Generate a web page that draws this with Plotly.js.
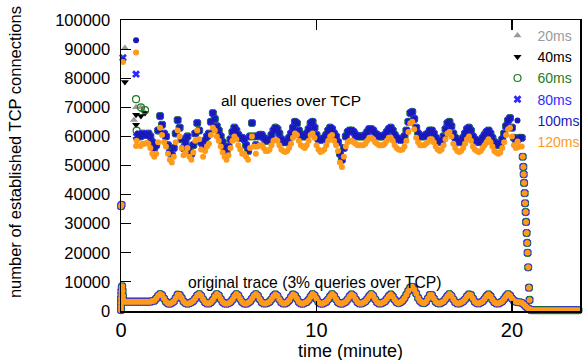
<!DOCTYPE html>
<html><head><meta charset="utf-8">
<script src="https://cdn.plot.ly/plotly-3.0.1.min.js"></script>
<style>html,body{margin:0;padding:0;background:#fff}</style>
</head><body><div id="chart" style="width:583px;height:360px"></div>
<script>
// ---- data (connection counts in thousands, time in minutes) ----
const seriesNames = ['20ms','40ms','60ms','80ms','100ms','120ms'];
const seriesColors = ['#9a9a9a','#000000','#1e7b1e','#2b2bff','#1a1ab8','#ff9a1a'];
const seriesSymbols = ['triangle-up','triangle-down','circle-open','x','circle','circle'];

const minutes = [
0.2,0.3,0.4,0.5,0.6,0.7,0.8,0.9,
1.0,1.1,1.2,1.3,1.4,1.5,1.6,1.7,1.8,1.9,
2.0,2.1,2.2,2.3,2.4,2.5,2.6,2.7,2.8,2.9,
3.0,3.1,3.2,3.3,3.4,3.5,3.6,3.7,3.8,3.9,
4.0,4.1,4.2,4.3,4.4,4.5,4.6,4.7,4.8,4.9,
5.0,5.1,5.2,5.3,5.4,5.5,5.6,5.7,5.8,5.9,
6.0,6.1,6.2,6.3,6.4,6.5,6.6,6.7,6.8,6.9,
7.0,7.1,7.2,7.3,7.4,7.5,7.6,7.7,7.8,7.9,
8.0,8.1,8.2,8.3,8.4,8.5,8.6,8.7,8.8,8.9,
9.0,9.1,9.2,9.3,9.4,9.5,9.6,9.7,9.8,9.9,
10.0,10.1,10.2,10.3,10.4,10.5,10.6,10.7,10.8,10.9,
11.0,11.1,11.2,11.3,11.4,11.5,11.6,11.7,11.8,11.9,
12.0,12.1,12.2,12.3,12.4,12.5,12.6,12.7,12.8,12.9,
13.0,13.1,13.2,13.3,13.4,13.5,13.6,13.7,13.8,13.9,
14.0,14.1,14.2,14.3,14.4,14.5,14.6,14.7,14.8,14.9,
15.0,15.1,15.2,15.3,15.4,15.5,15.6,15.7,15.8,15.9,
16.0,16.1,16.2,16.3,16.4,16.5,16.6,16.7,16.8,16.9,
17.0,17.1,17.2,17.3,17.4,17.5,17.6,17.7,17.8,17.9,
18.0,18.1,18.2,18.3,18.4,18.5,18.6,18.7,18.8,18.9,
19.0,19.1,19.2,19.3,19.4,19.5,19.6,19.7,19.8,19.9,
20.0,20.1,20.2,20.3,20.4,20.5,20.6,20.7,20.8,20.9];

// all queries over TCP: 20ms..100ms (upper, blue band)
const highFast = [
null,null,null,null,null,null,null,null,
60,61,60.5,60.5,61,60,58,56,57,62,
67,64,61,60,57,54.5,53.6,56,61,65.6,
63,59,56,58,60,56,54,57,61,64.6,
62,58,56,58.5,60,61,65,68,66,63.5,
62,60,58,56,55,56.5,59,61.5,63,62,
60.5,59.5,59.5,59,57,55,60,64.6,60,57,
60,60.5,60.5,59.5,58.5,58.5,59,60.5,62,63,
62.5,61,59,58,58,58.5,59.5,61,63,65,
64.5,62,60.5,60,60,61,62.5,64.5,65,63,
60.5,59,58.8,59,59.5,60.5,62,63,62.5,61,
60,58,54,52,56,60,61.5,62,62,61.5,
60.5,60,60,60,60,60.5,61.5,62.5,62.5,62,
61,60.5,60,60,60,60.5,61.5,62.5,63,62,
60.5,59.5,59,58.8,59,60,62,65,68,68.4,
66,63,61,60,60,60,60.5,61,62,62,
61,59.5,58.5,58,58.5,60,62.5,64.5,65,63.5,
61,59.5,58.5,58,58.5,59.5,61,62.5,63,62,
60,59,58.5,58,58.5,59.5,60.5,61.5,62,61,
59.5,58,57.5,57,57.5,59,61,63.5,65.5,66.3,
63,59.5,58.8,59,59.5,59.5,null,null,null,null];

// all queries over TCP: 120ms (lower, orange band)
const highSlow = [
null,null,null,null,null,null,null,null,
56.7,57.5,57.5,57.7,57.5,56,54,53,54,58,
63,60.5,58,56.5,54,52,51,53,58,62,
60,56,53.5,54.5,56,53,52,54.5,58.5,62,
59,55.5,53,55,56.5,57.5,60.5,63,62,60,
58.5,56.5,54.5,53,52,53.5,56,58.5,60,59,
57,55.5,54,54,53,52,56,60,56.5,54,
56.5,57,57,56,55,55,55.5,57,58.5,58.8,
58.5,57,55.5,55,54.6,55,56,57.5,59.5,61,
60.5,58.5,57,56.5,56,57,58.5,60.5,61,59.5,
57,55.5,54.6,55,55.5,57,58.5,60,60.5,58.5,
57,55,51,49.5,53,56.5,58,58.5,58.5,58,
57.5,57,57,57,57,57.5,58.5,59.5,59.5,59,
58,57.5,57,57,57,57.5,58.5,59.5,59.5,58.5,
57,56,55.5,55.3,55.5,56.5,58.5,61.5,64.5,65,
62.5,59.5,58,57,57,57,57.5,58,59,59,
58,56.5,55.5,55,55.5,57,59,61,61.5,60,
57.5,56,55,54.6,55,56,57.5,59,60,58.5,
56.5,55.5,55,54.6,55,56,57,58,59,58,
56.5,55,54.5,54,54.5,56,58,60.5,62.5,63,
60,57,56,56.3,56.5,56.5,null,null,null,null];

// original trace (3% queries over TCP)
const lowTrace = [
3.2,3.2,3.2,3.2,3.2,3.2,3.2,3.2,
3.2,3.2,3.2,3.2,3.2,3.2,3.4,3.5,4.3,5.2,
5.8,5.4,4.3,3.2,2.6,2.5,2.8,3.3,4.4,5.6,
5.5,4.5,3.3,2.7,2.5,2.7,3.0,3.4,4.3,5.3,
5.8,5.2,4.0,3.0,2.6,2.6,3.0,3.8,5.0,5.8,
5.3,4.1,3.1,2.6,2.5,2.7,3.1,3.9,5.0,5.8,
5.3,4.1,3.1,2.6,2.5,2.8,3.3,4.2,5.2,5.8,
5.2,4.0,3.0,2.6,2.6,2.8,3.2,4.0,5.1,5.7,
5.2,4.0,3.0,2.6,2.6,3.0,3.7,4.8,5.7,5.3,
4.2,3.1,2.6,2.5,2.8,3.1,3.8,4.9,5.8,5.3,
4.2,3.1,2.6,2.5,2.8,3.2,4.0,5.0,5.8,5.2,
4.0,3.0,2.6,2.5,2.8,3.2,4.0,5.0,5.7,5.2,
4.0,3.0,2.6,2.6,2.9,3.3,4.1,5.1,5.8,5.2,
4.0,3.0,2.6,2.6,2.9,3.3,4.1,5.1,5.7,5.0,
3.9,3.0,2.7,3.0,3.5,4.4,5.6,6.9,8.0,8.3,
7.4,6.0,4.5,3.4,2.8,2.7,3.2,4.3,5.5,5.5,
4.3,3.2,2.7,2.6,2.9,3.3,4.1,5.1,5.8,5.2,
4.0,3.0,2.6,2.6,2.9,3.3,4.0,5.0,5.7,5.5,
4.3,3.2,2.7,2.6,2.9,3.3,4.1,5.1,5.7,5.1,
3.9,3.0,2.6,2.6,2.9,3.3,4.1,5.1,5.8,5.3,
4.3,3.5,3.2,3.0,3.0,2.8,2.3,1.6,1.0,0.6];

const lowStartMinutes = [0,0,0,0,0.02,0.02,0.04,0.06,0.08,0.1,0.12,0.15];
const lowStartValues  = [0.3,1.5,2.8,4.2,5.5,6.8,8.0,8.5,7.0,5.2,3.8,3.3];

const dropMinutes = [20.55,20.58,20.6,20.62,20.65,20.67,20.7,20.72,20.75,20.78,20.8,20.83,20.87,20.9];
const dropValues  = [53,49.5,47,44,40.5,37,34,30.6,26.8,23.4,20,15,8,3.8];

const tailMinutes = [20.95,21.0,21.1,21.2,21.3,21.4,21.5,21.6,21.7,21.8,21.9,22.0,22.1,22.2,22.3,22.4,22.5,22.6,22.7,22.8,22.9,23.0,23.1,23.2,23.3,23.4,23.5];
const tailValues  = [0.4,0.3,0.3,0.3,0.3,0.3,0.3,0.3,0.3,0.3,0.3,0.3,0.3,0.3,0.3,0.3,0.3,0.3,0.3,0.3,0.3,0.3,0.3,0.3,0.3,0.3,0.3];

// start-up transient of each run
const startMinutes = [
  [0,0.03,0.2,0.66,0.77,0.8,1.02,1.12],
  [0,0.03,0.2,0.77,0.77,0.8,1.02,1.23],
  [0,0.03,0.77,0.8,1.02,1.23],
  [0,0.03,0.1,0.77,0.8],
  [0,0.03,0.1,0.77,0.8,0.85],
  [0,0.03,0.1,0.77,0.77,0.8]];
const startValues = [
  [36,36.5,90.4,65.6,70,61,70,69],
  [36,36.5,78.7,67.4,64,59,67,68],
  [36,36.5,72.8,62,70,69],
  [36,36.5,87,81.4,60],
  [36,36.5,86,93,59,61],
  [36,36.5,85.6,88.8,56.7,58.5]];

// ---- checks ----
[highFast, highSlow, lowTrace].forEach((a,i)=>{ if (a.length !== minutes.length) throw new Error('length mismatch '+i+': '+a.length+' vs '+minutes.length); });

// ---- traces ----
const markerSizes = [7, 7, 7, 7, 6, 6];
const traces = seriesNames.map((nm, i) => {
  const band = (i === 5) ? highSlow : highFast;
  const xs = [].concat(startMinutes[i], minutes, dropMinutes, tailMinutes, lowStartMinutes, minutes);
  const ys = [].concat(startValues[i], band, dropValues, tailValues, lowStartValues, lowTrace)
              .map(v => v === null ? null : v * 1000);
  const sym = seriesSymbols[i];
  return {
    type: 'scatter', mode: 'markers', x: xs, y: ys, cliponaxis: false,
    name: '<span style="color:' + seriesColors[i] + '">' + nm + '</span>',
    marker: {
      symbol: sym,
      size: markerSizes[i],
      color: seriesColors[i],
      line: { width: sym === 'circle-open' ? 1.2 : 0, color: seriesColors[i] }
    },
    hoverinfo: 'skip'
  };
});

const font = 'Liberation Sans, Arial, Helvetica, sans-serif';
const layout = {
  width: 583, height: 360,
  margin: { l: 121, r: 3, t: 20, b: 49, autoexpand: false },
  paper_bgcolor: '#fff', plot_bgcolor: '#fff',
  showlegend: true,
  legend: {
    x: 1.012, xanchor: 'right', y: 1.0, yanchor: 'top',
    bgcolor: 'rgba(0,0,0,0)', borderwidth: 0,
    font: { family: font, size: 14, color: '#000' },
    itemsizing: 'trace', tracegroupgap: 0
  },
  xaxis: {
    range: [0, 23.48], tickvals: [0, 10, 20], ticktext: ['0','10','20'],
    ticks: 'inside', ticklen: 10, tickwidth: 1.2, tickcolor: '#000',
    showline: true, linecolor: '#000', linewidth: 1.5, mirror: 'ticks',
    showgrid: false, zeroline: false,
    tickfont: { family: font, size: 20, color: '#000' }
  },
  yaxis: {
    range: [0, 100000], dtick: 10000, tickformat: 'd',
    ticks: 'inside', ticklen: 10, tickwidth: 1.2, tickcolor: '#000',
    showline: true, linecolor: '#000', linewidth: 1.5, mirror: true,
    showgrid: false, zeroline: false, ticklabelstandoff: 6,
    tickfont: { family: font, size: 16.5, color: '#000' }
  },
  annotations: [
    { text: 'all queries over TCP', xref: 'x', yref: 'y', x: 8.7, y: 72200,
      showarrow: false, font: { family: font, size: 15.5, color: '#000' } },
    { text: 'original trace (3% queries over TCP)', xref: 'x', yref: 'y', x: 9.9, y: 9700,
      showarrow: false, font: { family: font, size: 15.7, color: '#000' } },
    { text: 'time (minute)', xref: 'paper', yref: 'paper', x: 0.501, y: -0.136,
      xanchor: 'center', yanchor: 'middle', showarrow: false,
      font: { family: font, size: 18, color: '#000' } },
    { text: 'number of established TCP connections', xref: 'paper', yref: 'paper',
      x: -0.231, y: 0.546, textangle: -90, xanchor: 'center', yanchor: 'middle',
      showarrow: false, font: { family: font, size: 16.5, color: '#000' } }
  ],
  hovermode: false
};

Plotly.newPlot('chart', traces, layout, { displayModeBar: false, staticPlot: true });
</script>
</body></html>
